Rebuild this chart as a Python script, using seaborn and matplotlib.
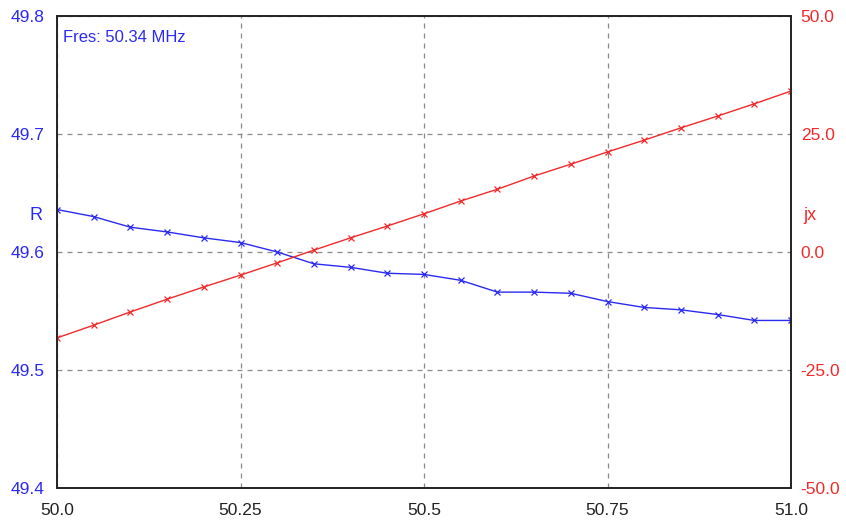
import numpy as np
import pandas as pd
import matplotlib
matplotlib.use("Agg")
import matplotlib.pyplot as plt
import seaborn as sns

freq = [50.00, 50.05, 50.10, 50.15, 50.20, 50.25, 50.30, 50.35, 50.40, 50.45, 50.50,
        50.55, 50.60, 50.65, 50.70, 50.75, 50.80, 50.85, 50.90, 50.95, 51.00]
r_vals = [49.636, 49.630, 49.621, 49.617, 49.612, 49.608, 49.600, 49.590, 49.587, 49.582, 49.581,
          49.576, 49.566, 49.566, 49.565, 49.558, 49.553, 49.551, 49.547, 49.542, 49.542]
jx_vals = [-18.2, -15.5, -12.7, -10.0, -7.4, -4.9, -2.3, 0.4, 3.0, 5.5, 8.1,
           10.8, 13.3, 16.1, 18.6, 21.2, 23.7, 26.3, 28.8, 31.4, 34.1]
x_ticks = [50.0, 50.25, 50.5, 50.75, 51.0]
x_labels = ["50.0", "50.25", "50.5", "50.75", "51.0"]
r_ticks = [49.4, 49.5, 49.6, 49.7, 49.8]
r_labels = ["49.4", "49.5", "49.6", "49.7", "49.8"]
jx_ticks = [-50, -25, 0, 25, 50]
jx_labels = ["-50.0", "-25.0", "0.0", "25.0", "50.0"]

sns.set_style("white")
plt.rcParams['font.family'] = ['Liberation Sans', 'DejaVu Sans']

df = pd.DataFrame({"freq": freq, "R": r_vals, "jx": jx_vals})

fig = plt.figure(figsize=(8.46, 5.25), dpi=100)
ax = fig.add_axes([57/846, 1 - 488/525, (791-57)/846, (488-16)/525])
ax2 = ax.twinx()

blue = "#2a2af0"
red = "#f02a2a"

sns.lineplot(data=df, x="freq", y="R", ax=ax, color=blue, linewidth=1.0,
             marker="x", markersize=5, markeredgewidth=0.9, markeredgecolor=blue)
sns.lineplot(data=df, x="freq", y="jx", ax=ax2, color=red, linewidth=1.0,
             marker="x", markersize=5, markeredgewidth=0.9, markeredgecolor=red)

ax.set_xlim(50.0, 51.0)
ax.set_ylim(49.4, 49.8)
ax2.set_ylim(-50, 50)

ax.set_xticks(x_ticks)
ax.set_xticklabels(x_labels, fontsize=12.5, color="#222222")
ax.set_yticks(r_ticks)
ax.set_yticklabels(r_labels, fontsize=12.5, color=blue)
ax2.set_yticks(jx_ticks)
ax2.set_yticklabels(jx_labels, fontsize=12.5, color=red)
ax.tick_params(axis="x", length=0, pad=11)
ax.tick_params(axis="y", length=0, pad=9)
ax2.tick_params(axis="y", length=0, pad=7)
ax.set_xlabel("")
ax.set_ylabel("")
ax2.set_ylabel("")

ax.grid(True, color="#8a8a8a", linestyle=(0, (4, 4)), linewidth=0.9)
ax2.grid(False)
for a in (ax, ax2):
    for s in a.spines.values():
        s.set_color("#222222")
        s.set_linewidth(1.2)

ax.text(0.008, 0.955, "Fres: 50.34 MHz", transform=ax.transAxes, color=blue,
        fontsize=12, ha="left", va="center")
fig.text(42/846, 1 - 215/525, "R", color=blue, fontsize=13, ha="right", va="center")
fig.text(803/846, 1 - 215/525, "jx", color=red, fontsize=13, ha="left", va="center")

fig.savefig("out.png", dpi=100)
